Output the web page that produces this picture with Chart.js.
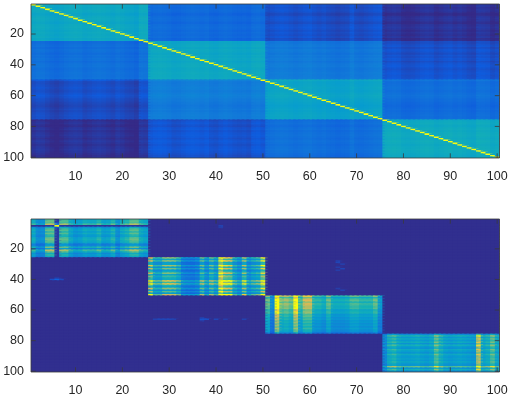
<!DOCTYPE html>
<html><head><meta charset="utf-8">
<script src="https://cdn.jsdelivr.net/npm/chart.js@4"></script>
<style>
html,body{margin:0;padding:0;background:#fff}
canvas{position:absolute;left:0;filter:blur(0.35px)}
</style></head><body>
<canvas id="top" width="510" height="183" style="top:0"></canvas>
<canvas id="bottom" width="510" height="182" style="top:215px"></canvas>
<script>
const xTicks=[10,20,30,40,50,60,70,80,90,100];
const yTicks=[20,40,60,80,100];
const blockEnds=[25,50,75,100];
const topRowBlockEnds=[24,49,75,100];
const parula=[[53,42,135],[15,92,221],[18,125,216],[7,156,207],[21,177,180],[89,189,140],[165,190,106],[225,185,82],[249,251,14]];

// upper panel: level of each of the 4x4 blocks, then per-column and per-row shading
const topBlocks=[[.43,.17,.09,.012],[.19,.43,.23,.09],[.10,.26,.43,.20],[.012,.10,.19,.44]];
const topColShade=[0,.015,.01,-.005,-.02,-.03,-.015,0,.01,.015,.01,-.01,0,.01,.015,.01,0,-.01,.01,0,-.015,-.02,-.035,.02,.015,
0,.01,.015,.01,0,-.015,-.01,0,.01,.015,.01,0,.01,-.01,-.015,0,.01,0,-.01,-.015,-.01,-.02,.01,.015,0,
-.01,0,.01,.015,.01,0,-.01,0,.01,.015,0,-.01,0,-.015,-.02,-.03,-.02,-.015,.015,-.015,-.02,-.01,0,.01,.015,
0,.01,.015,.01,-.01,-.015,-.01,0,.01,.015,.01,-.01,0,.01,.015,0,.01,0,-.015,-.02,.02,.015,.01,-.015,0];
const topRowShade=[.01,.015,0,.01,.015,0,-.015,-.01,.01,.015,.01,0,-.01,.01,.015,.02,.01,0,.015,.01,0,.015,-.01,0,-.01,
-.01,0,.01,-.01,.01,.015,0,-.01,.01,0,.015,.01,-.01,.01,.015,.02,.01,0,.01,.015,.02,.01,.015,.02,.015,
-.015,-.02,-.015,-.01,0,-.01,-.015,-.01,0,.01,0,-.01,-.015,-.02,-.03,-.035,-.04,-.03,-.02,-.03,-.02,-.015,-.01,-.015,-.01,
-.01,0,.01,0,-.01,.01,.015,0,.01,.015,.02,.01,0,.015,.02,.01,0,.01,.015,.02,.015,.01,0,-.01,0];

// lower panel: column and row strengths inside the four diagonal blocks
const bottomCol=[.45,.3,.32,.62,.62,.04,.58,.58,.42,.35,.38,.45,.42,.42,.5,.38,.4,.5,.32,.45,.5,.6,.6,.45,.4,
.72,.45,.45,.6,.6,.58,.48,.29,.27,.26,.3,.55,.36,.55,.42,1,.75,.72,.45,.36,.65,.36,.45,.5,.8,
.55,.27,.95,.58,.62,.55,.92,.5,.7,.7,.45,.45,.4,.55,.4,.4,.4,.42,.5,.5,.45,.45,.45,.55,.32,
.32,.5,.55,.45,.42,.42,.44,.46,.42,.4,.45,.65,.5,.42,.4,.42,.44,.42,.4,.38,.85,.45,.5,.65,.45];
const bottomRow=[1,1.05,1,1.3,.05,.75,1,1.05,.9,1.05,.9,.85,1.05,1.1,1,.95,.6,.65,1.1,.65,1.3,1.05,.75,.9,.75,
1.2,.75,1.2,.65,.7,1.25,.7,1.15,.65,.75,1.15,.7,.95,.8,.75,1.5,.95,1.5,.85,.7,1.2,.65,1.05,.65,1.4,
1.3,.95,1.2,1.25,1.05,1.25,1.15,1.1,1.15,.95,1,1.05,.85,.9,.8,.85,.75,.8,.72,.78,.7,.8,.72,.68,.5,
.7,1.15,.85,1.05,.85,1.05,.8,1.1,.9,.8,1.05,.9,.8,1.05,.9,.85,.95,.85,1,.85,.8,1.45,.8,1.1,.7];
const bottomBackground=.012;
const bottomSpots=[[5,6,1],[4,6,.25],[6,6,.1],[3,6,.08],[40,5,.09],[40,6,.14],[40,7,.08],[39,6,.05],
[66,27,.06],[66,28,.07],[66,29,.07],[66,30,.07],[66,31,.06],[66,37,.1],[66,38,.09],[66,40,.07],[66,42,.05],[66,46,.06],[65,37,.05],[67,37,.05],
[28,66,.06],[29,66,.07],[30,67,.05],[32,66,.05],[33,67,.07],[34,66,.05],[5,41,.06],[6,41,.05],[46,66,.05],[47,67,.06]];

function blockOf(i,ends){return ends.findIndex(e=>i<=e);}
function colour(v){
  v=Math.max(0,Math.min(1,v))*(parula.length-1);
  const i=Math.min(Math.floor(v),parula.length-2),t=v-i;
  const a=parula[i],b=parula[i+1];
  return `rgb(${a.map((x,k)=>Math.round(x+(b[k]-x)*t)).join(',')})`;
}
function topValue(r,c){
  if(r===c) return 1;
  return topBlocks[blockOf(r,topRowBlockEnds)][blockOf(c,blockEnds)]+topColShade[c-1]+topRowShade[r-1];
}
function bottomValue(r,c){
  const s=bottomSpots.find(p=>p[0]===r&&p[1]===c);
  if(s) return s[2];
  if(blockOf(r,blockEnds)!==blockOf(c,blockEnds)) return bottomBackground;
  return bottomCol[c-1]*bottomRow[r-1];
}
const frame={id:'frame',afterDraw(ch){
  const {ctx,chartArea:a,scales:{x,y}}=ch,len=4.7;
  ctx.save();ctx.strokeStyle='#3a3a3a';ctx.lineWidth=.8;ctx.beginPath();
  xTicks.forEach(v=>{const p=x.getPixelForValue(v);ctx.moveTo(p,a.top);ctx.lineTo(p,a.top+len);ctx.moveTo(p,a.bottom);ctx.lineTo(p,a.bottom-len);});
  yTicks.forEach(v=>{const p=y.getPixelForValue(v);ctx.moveTo(a.left,p);ctx.lineTo(a.left+len,p);ctx.moveTo(a.right,p);ctx.lineTo(a.right-len,p);});
  ctx.rect(a.left,a.top,a.right-a.left,a.bottom-a.top);ctx.stroke();ctx.restore();
}};
// each cell is painted wider and taller than its slot and the next cell paints over the excess, so no seams show
const cellWidth=1.5, cellShift=(cellWidth-1)/2, cellExtraHeight=.8;
function noPadding(s){s.paddingLeft=s.paddingRight=s.paddingTop=s.paddingBottom=0;}
function panel(id,valueOf,axisHeight){
  const data=[],colours=[];
  for(let r=1;r<=100;r++)for(let c=1;c<=100;c++){
    data.push({x:c+cellShift,y:[r-.5,r+.5+cellExtraHeight]});colours.push(colour(valueOf(r,c)));
  }
  const font={family:'"Liberation Sans"',size:12.5};
  new Chart(document.getElementById(id),{
    type:'bar',
    data:{datasets:[{data,backgroundColor:colours,borderWidth:0,barPercentage:cellWidth,categoryPercentage:1,grouped:false}]},
    options:{responsive:false,animation:false,events:[],
      layout:{autoPadding:false,padding:{top:4,right:10.5,left:0,bottom:0}},
      plugins:{legend:{display:false},tooltip:{enabled:false}},
      scales:{
        x:{type:'linear',offset:false,min:.5,max:100.5,grid:{display:false,drawTicks:false},border:{display:false},
          afterBuildTicks(s){s.ticks=xTicks.map(value=>({value}));},
          afterFit(s){s.height=axisHeight;noPadding(s);},
          ticks:{font,color:'#262626',padding:11,autoSkip:false,maxRotation:0}},
        y:{type:'linear',reverse:true,min:.5,max:100.5,grid:{display:false,drawTicks:false},border:{display:false},
          afterBuildTicks(s){s.ticks=yTicks.map(value=>({value}));},
          afterFit(s){s.width=31;noPadding(s);},
          ticks:{font,color:'#262626',padding:7,autoSkip:false}}
      }},
    plugins:[frame]
  });
}
panel('top',topValue,25);
panel('bottom',bottomValue,25);
</script></body></html>
